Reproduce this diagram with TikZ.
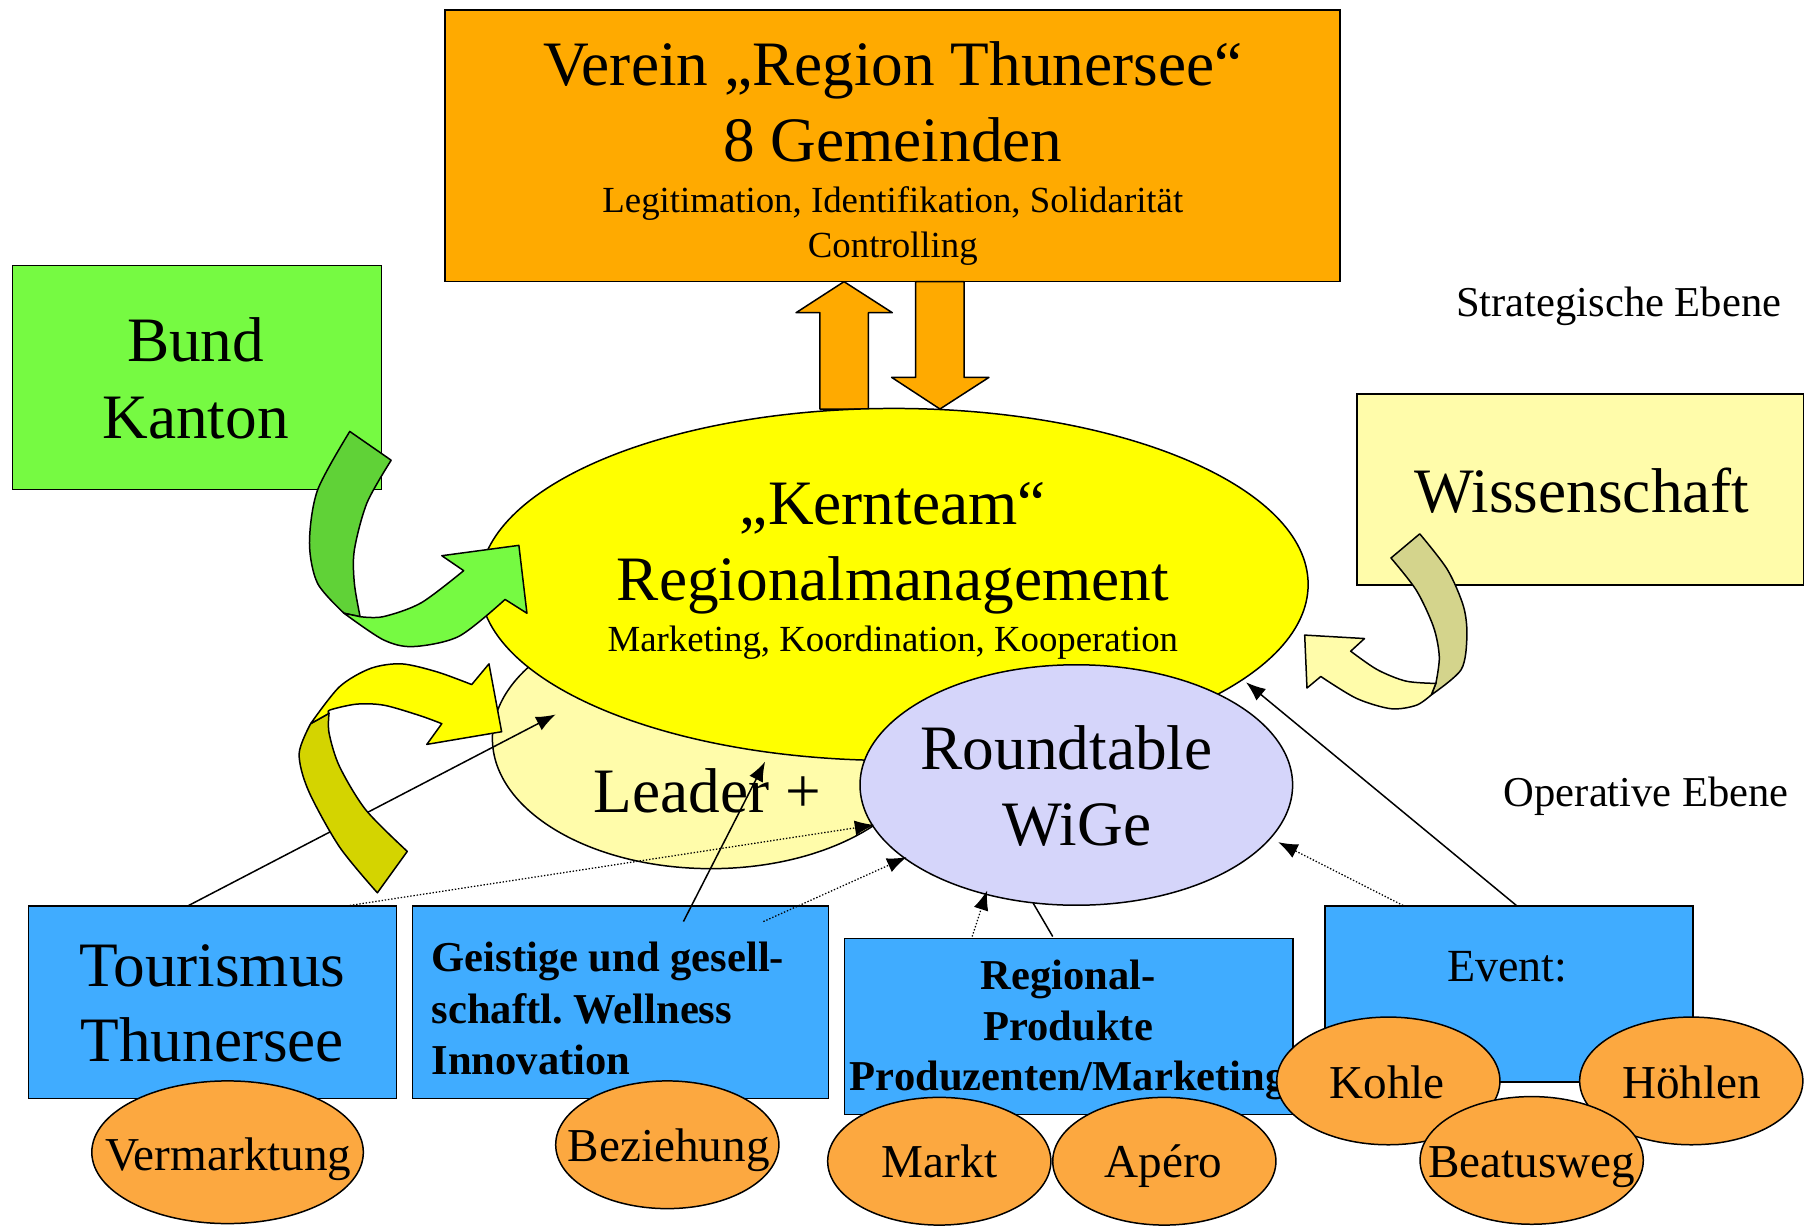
\documentclass[tikz,border=0pt]{standalone}
\usepackage{fontspec}
\setmainfont{Liberation Serif}
\usetikzlibrary{shapes.geometric,arrows.meta}
\frenchspacing
\definecolor{cTop}{RGB}{255,170,0}
\definecolor{cGreen}{RGB}{118,250,66}
\definecolor{cGreenDark}{RGB}{96,210,55}
\definecolor{cYellow}{RGB}{255,255,0}
\definecolor{cLightYellow}{RGB}{255,252,170}
\definecolor{cOlive}{RGB}{212,212,0}
\definecolor{cKhaki}{RGB}{212,212,140}
\definecolor{cLavender}{RGB}{213,213,250}
\definecolor{cBlue}{RGB}{64,172,255}
\definecolor{cOrangeEll}{RGB}{252,168,64}
\begin{document}
\begin{tikzpicture}[x=1pt,y=-1pt,
  box/.style={draw=black,line width=1.3pt,rectangle,inner sep=0pt,anchor=north west},
  ell/.style={draw=black,line width=1.3pt,ellipse,inner sep=0pt},
  smallell/.style={ell,fill=cOrangeEll,minimum width=194pt,minimum height=111pt},
  arrowpart/.style={draw=black,line width=1.3pt,line join=round},
  big/.style={font=\fontsize{55}{66}\selectfont,anchor=base,inner sep=0pt},
  mid/.style={font=\fontsize{32}{38}\selectfont,anchor=base,inner sep=0pt},
  lvl/.style={font=\fontsize{37}{44}\selectfont,anchor=base west,inner sep=0pt},
  lbl/.style={font=\fontsize{41}{49}\selectfont,anchor=base,inner sep=0pt},
  bld/.style={font=\fontsize{37}{45}\selectfont\bfseries,inner sep=0pt},
  conn/.style={line width=1.3pt,-{Latex[length=17pt,width=13pt]}},
  dotconn/.style={line width=1.1pt,dash pattern=on 1.2pt off 1.6pt,-{Latex[length=17pt,width=13pt]}},
  plain/.style={line width=1.3pt}]
\useasboundingbox (0,0) rectangle (1568,1066);

% top box
\node[box,fill=cTop,minimum width=778pt,minimum height=236pt] (verein) at (386,8) {};
\node[big] (v1) at (776,74) {Verein „Region Thunersee“};
\node[big] (v2) at (776,140.5) {8 Gemeinden};
\node[mid] (v3) at (776,185) {Legitimation, Identifikation, Solidarität};
\node[mid] (v4) at (776,224) {Controlling};

% block arrows
\filldraw[arrowpart,fill=cTop] (733.6,244.8) -- (775.6,271.8) -- (754.7,271.8) -- (754.7,355.5) -- (712.7,355.5) -- (712.7,271.8) -- (691.9,271.8) -- cycle;
\filldraw[arrowpart,fill=cTop] (795.9,244.8) -- (837.9,244.8) -- (837.9,328) -- (859.6,328) -- (817,355.5) -- (775,328) -- (795.9,328) -- cycle;

% side boxes
\node[box,fill=cGreen,minimum width=321pt,minimum height=195pt] (bund) at (10,230) {};
\node[big] (b1) at (170,314) {Bund};
\node[big] (b2) at (170,381) {Kanton};
\node[box,fill=cLightYellow,minimum width=388pt,minimum height=166pt] (wiss) at (1179,342) {};
\node[big] (w1) at (1375,445.6) {Wissenschaft};
\node[lvl] (strat) at (1265.5,275) {Strategische Ebene};
\node[lvl] (oper) at (1307,701) {Operative Ebene};

% ellipses
\node[ell,fill=cLightYellow,minimum width=380pt,minimum height=226pt] (leader) at (618,642) {};
\node[ell,fill=cYellow,minimum width=720pt,minimum height=306pt] (kern) at (777,508) {};
\node[ell,fill=cLavender,minimum width=376pt,minimum height=209pt] (round) at (935.5,682.3) {};
\node[big] (k1) at (776,456) {„Kernteam“};
\node[big] (k2) at (776,521.5) {Regionalmanagement};
\node[mid] (k3) at (776,566.5) {Marketing, Koordination, Kooperation};
\node[big] (l1) at (614.7,706) {Leader +};
\node[big] (r1) at (927,669) {Roundtable};
\node[big] (r2) at (936,735) {WiGe};

% bottom boxes
\node[box,fill=cBlue,minimum width=320pt,minimum height=167pt] (tour) at (24,787) {};
\node[big] (t1) at (184.5,857) {Tourismus};
\node[big] (t2) at (184.5,923) {Thunersee};
\node[box,fill=cBlue,minimum width=361.5pt,minimum height=167pt] (geist) at (358,787) {};
\node[bld,anchor=base west] (g1) at (375,844) {Geistige und gesell-};
\node[bld,anchor=base west] (g2) at (375,889.5) {schaftl. Wellness};
\node[bld,anchor=base west] (g3) at (375,933.5) {Innovation};
\node[box,fill=cBlue,minimum width=389.5pt,minimum height=153pt] (regio) at (733.5,815) {};
\node[bld,anchor=base] (p1) at (928.5,860) {Regional-};
\node[bld,anchor=base] (p2) at (928.5,904) {Produkte};
\node[bld,anchor=base] (p3) at (928.5,948) {Produzenten/Marketing};
\node[box,fill=cBlue,minimum width=320pt,minimum height=153pt] (event) at (1151,787) {};
\node[lbl,font=\fontsize{40}{48}\selectfont] (e1) at (1310,853) {Event:};

% connector end points
\coordinate (a1) at (164,787);   \coordinate (a2) at (483,621);
\coordinate (b1s) at (304,787);  \coordinate (b2s) at (760,717);
\coordinate (c1) at (594,801);   \coordinate (c2) at (665,662);
\coordinate (d1) at (663.5,801); \coordinate (d2) at (788,745);
\coordinate (e1s) at (845,814);  \coordinate (e2s) at (858,774);
\coordinate (f1) at (915,814);   \coordinate (f2) at (898,785);
\coordinate (g1s) at (1219.5,787); \coordinate (g2s) at (1111,732);
\coordinate (h1) at (1318,787);  \coordinate (h2) at (1083,593);

\draw[conn] (a1) -- (a2);
\draw[dotconn] (b1s) -- (b2s);
\draw[conn] (c1) -- (c2);
\draw[dotconn] (d1) -- (d2);
\draw[dotconn] (e1s) -- (e2s);
\draw[plain] (f1) -- (f2);
\draw[dotconn] (g1s) -- (g2s);
\draw[conn] (h1) -- (h2);

% green curved arrow
\filldraw[arrowpart,fill=cGreenDark] (304,375) -- (340,400) --plot[smooth] coordinates {(340,400) (319,437) (308,478) (308,507) (313,536)} -- (299,533) --plot[smooth] coordinates {(299,533) (276,507) (269,472) (276,426) (304,375)} -- cycle;
\filldraw[arrowpart,fill=cGreen] (299,533) --plot[smooth] coordinates {(299,533) (333,556) (359,562) (399,553) (439,521)} -- (458,533) -- (451,474) -- (384,483) -- (403,496) --plot[smooth] coordinates {(403,496) (366,524) (333,536) (313,536)} -- cycle;

% yellow curved arrow
\filldraw[arrowpart,fill=cOlive] (328,776) -- (354,740) --plot[smooth] coordinates {(354,740) (318,704) (295,666) (286,637) (286,620)} -- (270,629) --plot[smooth] coordinates {(270,629) (260,655) (268,687) (295,736) (328,776)} -- cycle;
\filldraw[arrowpart,fill=cYellow] (270,629) --plot[smooth] coordinates {(270,629) (295,597) (322,581) (349,577) (380,584) (410,595)} -- (425,577) -- (436,636) -- (371,647) -- (384,629) --plot[smooth] coordinates {(384,629) (365,622) (334,613) (310,612) (287,617) (286,620)} -- cycle;

% Wissenschaft curved arrow
\filldraw[arrowpart,fill=cKhaki] (1209,485) -- (1234,464) --plot[smooth] coordinates {(1234,464) (1258,495) (1272,527) (1275,553) (1270,582) (1244,604)} -- (1248,594) --plot[smooth] coordinates {(1248,594) (1251,571) (1246,545) (1231,513) (1209,485)} -- cycle;
\filldraw[arrowpart,fill=cLightYellow] (1244,604) --plot[smooth] coordinates {(1244,604) (1231,613) (1209,616) (1179,607) (1148,588)} -- (1136,598) -- (1134,552) -- (1186,555) -- (1174,566) --plot[smooth] coordinates {(1174,566) (1197,582) (1222,592) (1248,594)} -- cycle;

% orange ellipses
\node[ell,fill=cOrangeEll,minimum width=236pt,minimum height=124pt] (verm) at (197.8,1001.5) {};
\node[lbl] (tv) at (198.4,1017) {Vermarktung};
\node[smallell] (bez) at (580,995) {};
\node[lbl] (tb) at (581.3,1009.7) {Beziehung};
\node[smallell] (markt) at (816.4,1009.3) {};
\node[lbl] (tm) at (816.7,1023.3) {Markt};
\node[smallell] (apero) at (1012,1009.3) {};
\node[lbl] (ta) at (1011.3,1023.3) {Apéro};
\node[smallell] (kohle) at (1206.7,939.5) {};
\node[lbl] (tk) at (1205.6,954.6) {Kohle};
\node[smallell] (hoehlen) at (1470,939.5) {};
\node[lbl] (th) at (1470.4,954.6) {Höhlen};
\node[smallell] (beatus) at (1331.3,1008.6) {};
\node[lbl] (tbw) at (1331.3,1023.3) {Beatusweg};
\end{tikzpicture}
\end{document}
